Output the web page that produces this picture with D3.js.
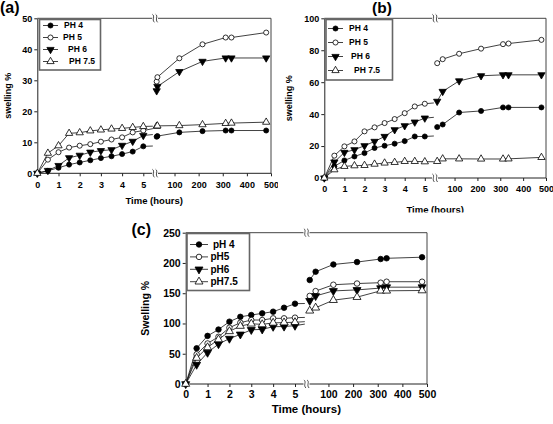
<!DOCTYPE html>
<html><head><meta charset="utf-8">
<script src="https://cdn.jsdelivr.net/npm/d3@7"></script>
<style>
html,body{margin:0;padding:0;background:#fff;}
svg{display:block;font-family:"Liberation Sans",Arial,sans-serif;}
</style></head>
<body>
<svg id="chart" width="553" height="424"></svg>
<script>
// ---------- data ----------
const timesLeft = [0, 0.5, 1, 1.5, 2, 2.5, 3, 3.5, 4, 4.5, 5];
const tailTime = 5.45;
const timesRightA = [26, 29, 120, 216, 312, 336, 480];
const timesRight = [24, 48, 120, 216, 312, 336, 480];
const leftTicks = [0, 1, 2, 3, 4, 5];
const rightTicks = [100, 200, 300, 400, 500];
const yTicksA = [0, 10, 20, 30, 40, 50];
const yTicksB = [0, 20, 40, 60, 80, 100];
const yTicksC = [0, 50, 100, 150, 200, 250];
const legendAB = ["PH 4", "PH 5", "PH 6", "PH 7.5"];
const legendC = ["pH 4", "pH5", "pH6", "pH7.5"];

// panel (a)
const aLeftPH4  = [0, 0.8, 1.8, 2.8, 3.5, 4.2, 4.9, 5.5, 6.2, 7.0, 8.7];
const aLeftPH5  = [0, 4.4, 6.8, 8.3, 8.9, 9.4, 10.2, 10.9, 11.6, 13.2, 13.8];
const aLeftPH6  = [0, 0.9, 2.5, 5.0, 5.8, 6.8, 7.3, 7.6, 9.0, 10.3, 12.2];
const aLeftPH75 = [0, 6.5, 8.9, 12.9, 13.1, 13.7, 14.0, 14.3, 14.5, 14.8, 15.1];
const aTail = [8.8, 14.4, 12.5, 15.2];
const aRightPH4  = [11.8, 12.0, 13.2, 13.6, 13.8, 13.8, 13.8];
const aRightPH5  = [29.6, 31.0, 37.1, 41.6, 43.8, 43.8, 45.4];
const aRightPH6  = [26.6, 28.0, 32.8, 36.1, 37.2, 37.2, 37.2];
const aRightPH75 = [15.2, 15.3, 15.4, 15.7, 16.1, 16.2, 16.5];

// panel (b)
const bLeftPH4  = [0, 7.3, 11, 13.5, 15.6, 18.8, 20.2, 21.5, 23.1, 26, 26];
const bLeftPH5  = [0, 14, 19.8, 22.9, 29.2, 31.7, 34.4, 36.9, 40.6, 44.8, 46.5];
const bLeftPH6  = [0, 10, 16, 17.7, 20.2, 22.9, 26, 30.2, 32.7, 35, 37.5];
const bLeftPH75 = [0, 5.2, 7.3, 7.7, 7.9, 8.7, 9.4, 9.8, 10.4, 10.4, 10.2];
const bTail = [26.3, 47, 38, 10.2];
const bRightPH4  = [31.9, 33.5, 41, 42, 44.2, 44.2, 44.2];
const bRightPH5  = [71.9, 74.4, 77.8, 81, 83.8, 84.2, 86.5];
const bRightPH6  = [48, 54.2, 60.8, 64, 64.6, 64.6, 64.6];
const bRightPH75 = [10.4, 12, 12, 11.9, 11.9, 12, 12.9];

// panel (c)
const cLeftPH4  = [0, 59, 79.5, 90, 103, 111, 114, 116.7, 119.5, 126, 132.7];
const cLeftPH5  = [0, 49, 67, 78, 93, 101.3, 105.7, 105.7, 108.5, 108.5, 109.6];
const cLeftPH6  = [0, 32, 51.8, 66, 75, 82, 89.5, 90.3, 94.7, 95, 96.4];
const cLeftPH75 = [0, 43, 60.5, 73.5, 87, 95.8, 99.5, 98.5, 101, 101.5, 102];
const cTail = [133, 110, 99, 103];
const cRightPH4  = [171.8, 185.5, 197.5, 201.5, 206.5, 207.7, 209.5];
const cRightPH5  = [145.5, 153.5, 164, 166, 167.4, 169, 169];
const cRightPH6  = [137.5, 145.5, 153.8, 155.5, 158.5, 160, 160];
const cRightPH75 = [121, 126, 138.5, 143.5, 154, 154, 154.5];

// ---------- drawing ----------
const svg = d3.select("#chart");
const FONT = '"Liberation Sans",Arial,sans-serif';
const markerTypes = [
  {sym: d3.symbolCircle, fill: "#000", rot: 0},
  {sym: d3.symbolCircle, fill: "#fff", rot: 0},
  {sym: d3.symbolTriangle, fill: "#000", rot: 180},
  {sym: d3.symbolTriangle, fill: "#fff", rot: 0}
];

function drawBreak(g, x, y) {
  g.append("rect").attr("x", x - 3).attr("y", y - 1).attr("width", 6).attr("height", 2).attr("fill", "#fff");
  [-1.6, 1.6].forEach(dx => {
    g.append("path")
      .attr("d", `M${x+dx-1},${y-4} C${x+dx+2},${y-2} ${x+dx-2},${y+1} ${x+dx+1},${y+4}`)
      .attr("fill", "none").attr("stroke", "#222").attr("stroke-width", 0.8);
  });
}

function panel(cfg) {
  const g = svg.append("g");
  if (cfg.bg) g.append("rect").attr("x", cfg.bg[0]).attr("y", cfg.bg[1]).attr("width", cfg.bg[2]).attr("height", cfg.bg[3]).attr("fill", "#fff");
  const xl = d3.scaleLinear().domain([0, 5]).range([cfg.L, cfg.L5]);
  const xr = d3.scaleLinear().domain([0, 500]).range([cfg.R0, cfg.R]);
  const y = d3.scaleLinear().domain([0, cfg.yMax]).range([cfg.bottom, cfg.top]);
  const fs = cfg.fs;

  g.append("path").attr("d", `M${cfg.L},${cfg.top}H${cfg.R}V${cfg.bottom}`)
    .attr("fill", "none").attr("stroke", "#444").attr("stroke-width", 1);
  g.append("path").attr("d", `M${cfg.L},${cfg.bottom}H${cfg.R}`)
    .attr("fill", "none").attr("stroke", "#222").attr("stroke-width", 1);

  const styleAxis = sel => {
    sel.select(".domain").remove();
    sel.selectAll("line").attr("stroke", "#222");
    sel.selectAll("text").attr("font-size", fs).attr("font-weight", "bold").attr("fill", "#000")
      .attr("font-family", FONT);
  };
  g.append("g").attr("transform", `translate(0,${cfg.bottom})`)
    .call(d3.axisBottom(xl).tickValues(leftTicks).tickSize(3).tickPadding(cfg.xpad).tickFormat(d3.format("d")))
    .call(styleAxis);
  g.append("g").attr("transform", `translate(0,${cfg.bottom})`)
    .call(d3.axisBottom(xr).tickValues(rightTicks).tickSize(3).tickPadding(cfg.xpad).tickFormat(d3.format("d")))
    .call(styleAxis);
  const ya = g.append("g").attr("transform", `translate(${cfg.L},0)`)
    .call(d3.axisLeft(y).tickValues(cfg.yTicks).tickSize(3).tickSizeOuter(0).tickPadding(2));
  ya.select(".domain").attr("stroke", "#222");
  ya.selectAll("line").attr("stroke", "#222");
  ya.selectAll("text").attr("font-size", fs).attr("font-weight", "bold").attr("fill", "#000")
    .attr("font-family", FONT);

  drawBreak(g, cfg.breakX, cfg.top);
  drawBreak(g, cfg.breakX, cfg.bottom);

  const line = d3.line().x(d => d[0]).y(d => d[1]);
  cfg.series.forEach((s, i) => {
    const leftPts = timesLeft.map((t, j) => [xl(t), y(s.left[j])]);
    const tailPts = [leftPts[leftPts.length - 1], [xl(tailTime), y(cfg.tail[i])]];
    const rightPts = cfg.tr.map((t, j) => [xr(t), y(s.right[j])]);
    [leftPts, tailPts, rightPts].forEach(p =>
      g.append("path").attr("d", line(p)).attr("fill", "none").attr("stroke", "#111").attr("stroke-width", 0.8));
  });
  cfg.series.forEach((s, i) => {
    const m = markerTypes[i];
    const sym = d3.symbol().type(m.sym).size(m.sym === d3.symbolCircle ? cfg.ms : cfg.ms * 1.15);
    const pts = timesLeft.map((t, j) => [xl(t), y(s.left[j])])
      .concat(cfg.tr.map((t, j) => [xr(t), y(s.right[j])]));
    pts.forEach(p => g.append("path").attr("d", sym())
      .attr("transform", `translate(${p[0]},${p[1]}) rotate(${m.rot})`)
      .attr("fill", m.fill).attr("stroke", "#000").attr("stroke-width", 0.8));
  });

  const lg = cfg.legend;
  g.append("rect").attr("x", lg.x).attr("y", lg.y).attr("width", lg.w).attr("height", lg.h)
    .attr("fill", "#fff").attr("stroke", "#666").attr("stroke-width", 1.6);
  cfg.labels.forEach((lab, i) => {
    const yy = lg.y0 + i * lg.dy;
    g.append("line").attr("x1", lg.lx0).attr("x2", lg.lx1).attr("y1", yy).attr("y2", yy)
      .attr("stroke", "#111").attr("stroke-width", 0.8);
    const m = markerTypes[i];
    const sym = d3.symbol().type(m.sym).size(m.sym === d3.symbolCircle ? cfg.ms : cfg.ms * 1.15);
    g.append("path").attr("d", sym()).attr("transform", `translate(${(lg.lx0 + lg.lx1) / 2},${yy}) rotate(${m.rot})`)
      .attr("fill", m.fill).attr("stroke", "#000").attr("stroke-width", 0.8);
    g.append("text").attr("x", lg.tx + lg.off[i]).attr("y", yy).attr("dy", "0.35em")
      .attr("font-size", lg.fs).attr("font-weight", "bold").text(lab);
  });

  g.append("text").attr("x", (cfg.L + cfg.R) / 2).attr("y", cfg.xTitleY).attr("text-anchor", "middle")
    .attr("font-size", cfg.tfs).attr("font-weight", "bold").text("Time (hours)");
  g.append("text").attr("transform", `translate(${cfg.yTitleX},${(cfg.top + cfg.bottom) / 2}) rotate(-90)`)
    .attr("text-anchor", "middle").attr("font-size", cfg.yfs).attr("font-weight", "bold").text(cfg.yTitle);
  g.append("text").attr("x", cfg.tag[0]).attr("y", cfg.tag[1]).attr("font-size", cfg.tagfs)
    .attr("font-weight", "bold").text(cfg.tagText);
}

panel({
  L: 37.3, L5: 143.3, breakX: 155, R0: 150.4, R: 271, top: 18.3, bottom: 173.3, yMax: 50,
  yTicks: yTicksA, tr: timesRightA, tail: aTail, fs: 9, xpad: 5, ms: 20,
  series: [{left: aLeftPH4, right: aRightPH4}, {left: aLeftPH5, right: aRightPH5},
           {left: aLeftPH6, right: aRightPH6}, {left: aLeftPH75, right: aRightPH75}],
  labels: legendAB,
  legend: {x: 39.5, y: 19.5, w: 61, h: 50.5, y0: 25.5, dy: 12, lx0: 43, lx1: 58, tx: 64, off: [0, -1, 4, 5], fs: 8.5},
  xTitleY: 203.5, tfs: 9.5, yTitleX: 11, yfs: 9, yTitle: "swelling %",
  tag: [0, 12.5], tagfs: 16, tagText: "(a)"
});

panel({
  bg: [278, 0, 275, 212],
  L: 324.3, L5: 424.8, breakX: 435, R0: 431.7, R: 546, top: 18.3, bottom: 178, yMax: 100,
  yTicks: yTicksB, tr: timesRight, tail: bTail, fs: 9, xpad: 5, ms: 20,
  series: [{left: bLeftPH4, right: bRightPH4}, {left: bLeftPH5, right: bRightPH5},
           {left: bLeftPH6, right: bRightPH6}, {left: bLeftPH75, right: bRightPH75}],
  labels: legendAB,
  legend: {x: 326, y: 19.5, w: 66.5, h: 60.5, y0: 28.5, dy: 14, lx0: 328, lx1: 343, tx: 349, off: [0, 0, 2, 5], fs: 8.5},
  xTitleY: 212.5, tfs: 9.5, yTitleX: 292, yfs: 9, yTitle: "swelling %",
  tag: [372, 13], tagfs: 15.5, tagText: "(b)"
});

panel({
  bg: [128, 212.5, 425, 212],
  L: 185.7, L5: 295, breakX: 306.5, R0: 303.8, R: 427, top: 232.7, bottom: 384, yMax: 250,
  yTicks: yTicksC, tr: timesRight, tail: cTail, fs: 10.5, xpad: 4, ms: 24,
  series: [{left: cLeftPH4, right: cRightPH4}, {left: cLeftPH5, right: cRightPH5},
           {left: cLeftPH6, right: cRightPH6}, {left: cLeftPH75, right: cRightPH75}],
  labels: legendC,
  legend: {x: 187, y: 233.5, w: 62.5, h: 57, y0: 244.5, dy: 12.4, lx0: 190, lx1: 208, tx: 210.5, off: [2.5, 0, 0, 0], fs: 10},
  xTitleY: 413, tfs: 11.5, yTitleX: 149, yfs: 10.5, yTitle: "Swelling %",
  tag: [131.5, 235], tagfs: 16, tagText: "(c)"
});
</script>
</body></html>
